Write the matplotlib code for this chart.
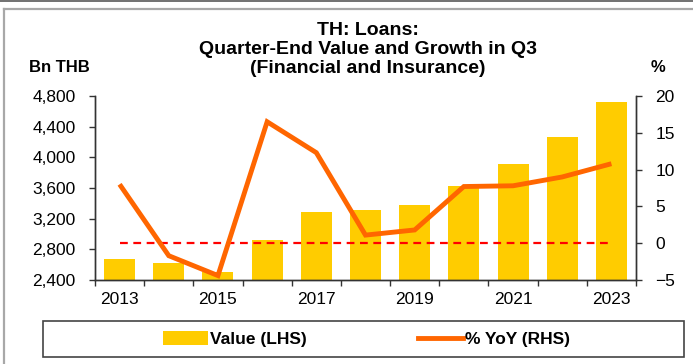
import matplotlib
matplotlib.use("Agg")
import matplotlib.pyplot as plt
from matplotlib.patches import Rectangle, Patch
from matplotlib.lines import Line2D
from matplotlib.ticker import FuncFormatter, FixedLocator

plt.rcParams['font.family'] = ['Liberation Sans', 'DejaVu Sans']

# Data
years = ["2013", "2014", "2015", "2016", "2017", "2018",
         "2019", "2020", "2021", "2022", "2023"]
value_bn_thb = [2674, 2626, 2508, 2922, 3283, 3313, 3374, 3630, 3913, 4265, 4721]
yoy_pct = [8.0, -1.7, -4.4, 16.5, 12.3, 1.1, 1.8, 7.7, 7.8, 9.0, 10.8]

BAR_C = "#FFCC00"
LINE_C = "#FF6600"

W, H = 693, 364
fig = plt.figure(figsize=(W / 100, H / 100), dpi=100)

def fx(px):
    return px / W

def fy(py):
    return 1 - py / H

# Outer frame lines
fig.add_artist(Line2D([0, 1], [fy(1.2), fy(1.2)], color="#666666", lw=1.3))
fig.add_artist(Line2D([fx(4), 1], [fy(8.5), fy(8.5)], color="#A8A8A8", lw=1.6))
fig.add_artist(Line2D([fx(4), fx(4)], [fy(8.5), 0], color="#A8A8A8", lw=1.6))

ax = fig.add_axes([fx(95), fy(280), fx(636 - 95), (280 - 96) / H])
ax2 = ax.twinx()

x = list(range(len(years)))
ax.bar(x, value_bn_thb, width=0.63, color=BAR_C, zorder=2)
ax.set_ylim(2400, 4800)
ax.set_xlim(-0.5, len(years) - 0.5)
ax.set_yticks([2400, 2800, 3200, 3600, 4000, 4400, 4800])
ax.yaxis.set_major_formatter(FuncFormatter(lambda v, p: f"{int(v):,}"))

# x ticks at category boundaries, labels every other year
ax.xaxis.set_major_locator(FixedLocator([i - 0.5 for i in range(len(years) + 1)]))
ax.xaxis.set_major_formatter(FuncFormatter(lambda v, p: ""))
ax.xaxis.set_minor_locator(FixedLocator(x[::2]))
ax.set_xticklabels([years[i] for i in x[::2]], minor=True)
ax.tick_params(axis="x", which="minor", length=0, pad=9, labelsize=12.5)
ax.tick_params(axis="x", which="major", length=4, width=1, direction="out", color="#333333")
ax.tick_params(axis="y", length=4, width=1, direction="out", pad=10, labelsize=12.5, color="#333333")

ax2.plot(x, yoy_pct, color=LINE_C, lw=3.5, zorder=4, solid_capstyle="butt", solid_joinstyle="miter")
ax2.plot([x[0], x[-1]], [0, 0], color="#FF0000", lw=1.6, ls=(0, (3.5, 2.5)), zorder=3)
ax2.set_ylim(-5, 20)
ax2.set_yticks([-5, 0, 5, 10, 15, 20])
ax2.tick_params(axis="y", length=4, width=1, direction="out", pad=10, labelsize=12.5, color="#333333")

for a in (ax, ax2):
    a.spines["top"].set_visible(False)
    for s in ("left", "right", "bottom"):
        a.spines[s].set_color("#333333")
        a.spines[s].set_linewidth(1.0)

# Titles and axis unit labels
fig.text(fx(368), fy(49.5), "TH: Loans:\nQuarter-End Value and Growth in Q3\n(Financial and Insurance)",
         ha="center", va="center", fontsize=14, fontweight="bold", linespacing=1.13)
fig.text(fx(59), fy(67), "Bn THB", ha="center", va="center", fontsize=12, fontweight="bold")
fig.text(fx(658), fy(67), "%", ha="center", va="center", fontsize=12, fontweight="bold")

# Legend with its own frame
fig.add_artist(Rectangle((fx(43), fy(357)), fx(684 - 43), (357 - 321) / H,
                         fill=False, edgecolor="#444444", lw=1.2))
handles = [Patch(facecolor=BAR_C, edgecolor="none"),
           Line2D([], [], color=LINE_C, lw=3.5)]
fig.legend(handles, ["Value (LHS)", "% YoY (RHS)"], ncol=2, frameon=False,
           loc="center", bbox_to_anchor=(fx(366.5), fy(339)),
           prop={"weight": "bold", "size": 12.5}, handlelength=2.6, handletextpad=0.1,
           columnspacing=6.4, handleheight=0.9)

fig.savefig("out.png", dpi=100)
